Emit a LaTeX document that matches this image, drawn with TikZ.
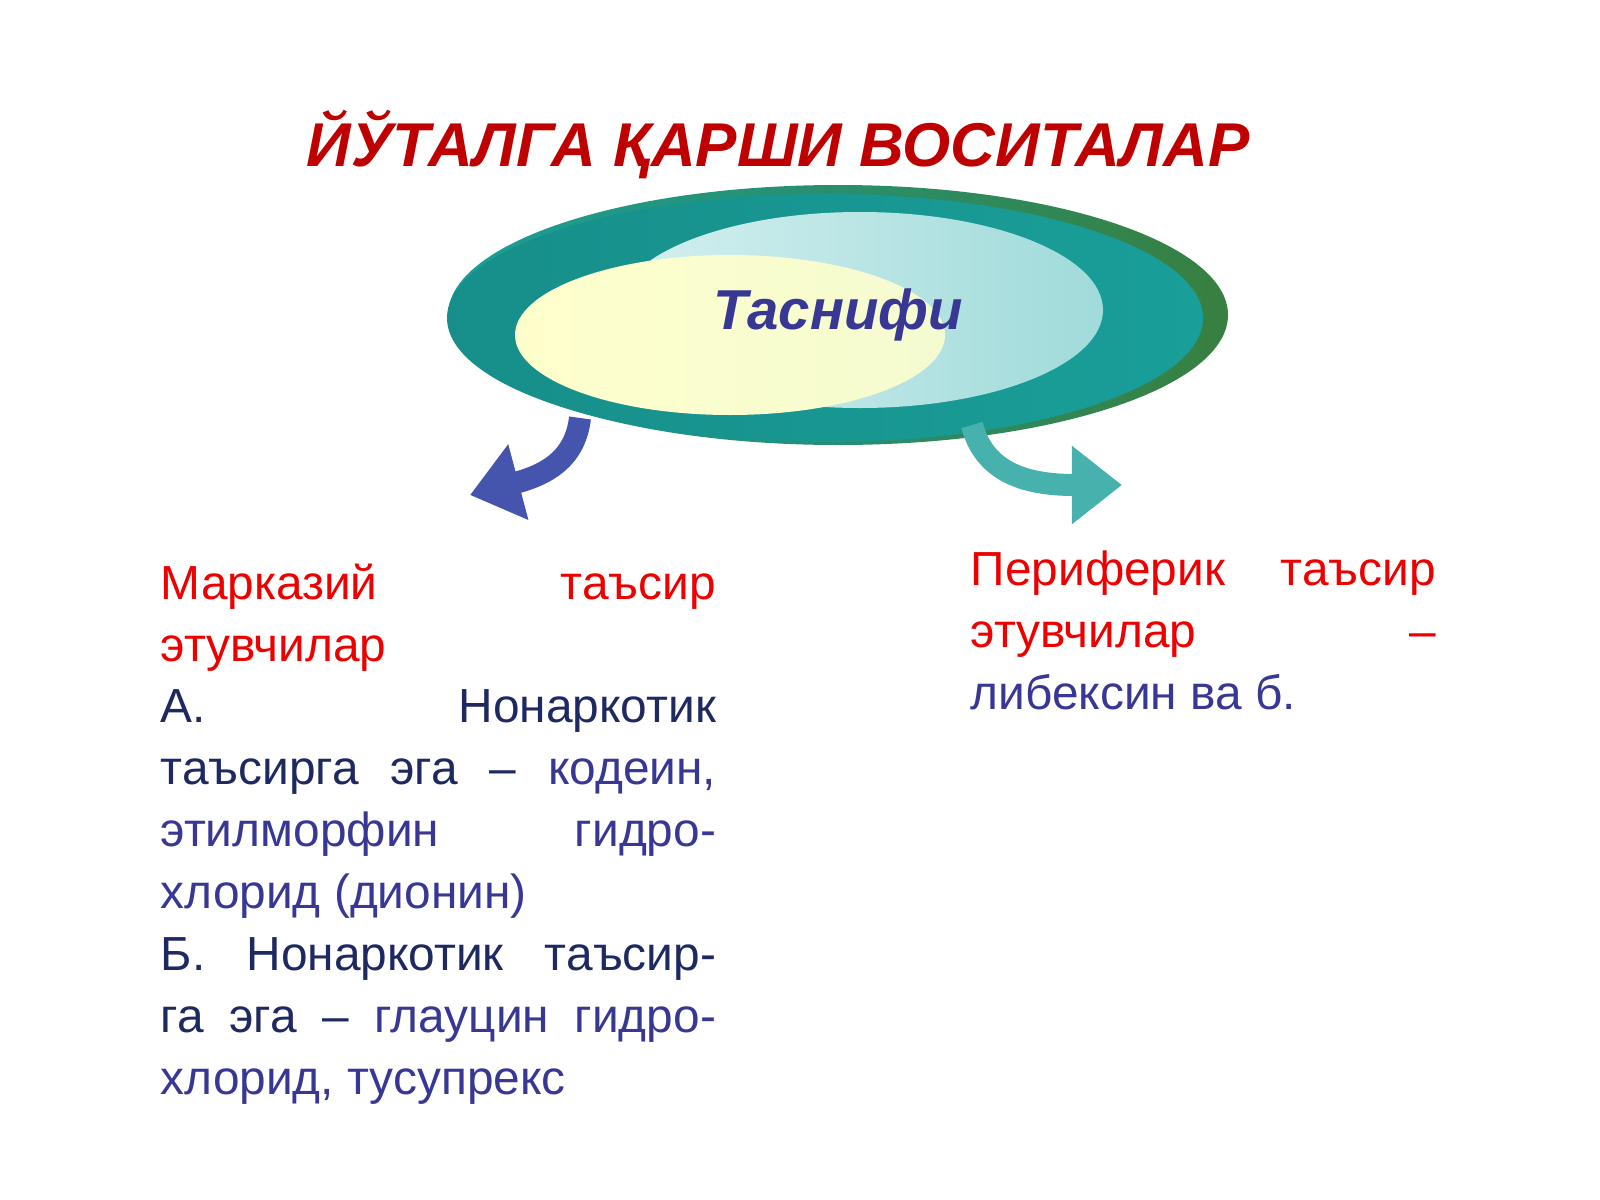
\documentclass[tikz,border=0pt]{standalone}
\usepackage{fontspec}
\setmainfont{Liberation Sans}
\usetikzlibrary{arrows.meta}
\begin{document}
\begin{tikzpicture}[x=0.01cm,y=-0.01cm]
  % colors
  \definecolor{kTitle}{rgb}{0.75,0.0,0.0}
  \definecolor{kRed}{rgb}{0.93,0.0,0.0}
  \definecolor{kNavy}{rgb}{0.12,0.16,0.38}
  \definecolor{kIndigo}{rgb}{0.22,0.22,0.58}
  \definecolor{kTeal}{rgb}{0.10,0.62,0.60}
  \definecolor{kGreen}{rgb}{0.22,0.50,0.25}
  \definecolor{kCyan}{rgb}{0.72,0.90,0.90}
  \definecolor{kCream}{rgb}{1.0,1.0,0.80}
  \definecolor{kBlue}{rgb}{0.27,0.33,0.68}
  \tikzset{
    body/.style={anchor=north west,inner sep=0pt,align=justify,
      font=\fontsize{13.6}{17.6}\selectfont},
    bigarrow/.style={line width=0.22cm,-{Triangle[length=0.5cm,width=0.75cm]}}
  }
  \useasboundingbox[fill=white] (0,0) rectangle (1600,1200);
  % title
  \node[text=kTitle,font=\fontsize{17.6}{20}\selectfont\bfseries\itshape]
    (title) at (778,145) {ЙЎТАЛГА ҚАРШИ ВОСИТАЛАР};
  % shape
  \shade[left color=kTeal,right color=kGreen] (838,315) ellipse (390 and 130);
  \shade[left color=kTeal!90!black,right color=kTeal] (825,318) ellipse (378 and 124);
  \shade[left color=kCyan!60!white,right color=kCyan!85!kTeal] (860,310) ellipse (243 and 98);
  \shade[left color=kCream,right color=kCream!85!kCyan] (730,335) ellipse (215 and 80);
  \node[text=kIndigo,font=\fontsize{16}{18}\selectfont\bfseries\itshape]
    (class) at (838,315) {Таснифи};
  % arrows
  \coordinate (la) at (580,418);
  \coordinate (lb) at (470,495);
  \coordinate (ra) at (972,425);
  \coordinate (rb) at (1122,485);
  \draw[bigarrow,color=kBlue] (la) .. controls (575,460) and (545,475) .. (lb);
  \draw[bigarrow,color=kTeal!80!white] (ra) .. controls (985,475) and (1030,485) .. (rb);
  % texts
  \node[body,text width=5.55cm] (central) at (160,563) {%
    \textcolor{kRed}{Марказий таъсир\linebreak этувчилар}\par
    \textcolor{kNavy}{А. Нонаркотик\linebreak таъсирга эга –} \textcolor{kIndigo}{кодеин,\linebreak
    этилморфин гидро-\linebreak{}хлорид (дионин)}\par
    \textcolor{kNavy}{Б. Нонаркотик таъсир-\linebreak{}га эга –} \textcolor{kIndigo}{глауцин гидро-\linebreak{}хлорид, тусупрекс}};
  \node[body,text width=4.65cm] (periph) at (970,550) {%
    \textcolor{kRed}{Периферик таъсир\linebreak этувчилар –}\linebreak
    \textcolor{kIndigo}{либексин ва б.}};
\end{tikzpicture}
\end{document}
